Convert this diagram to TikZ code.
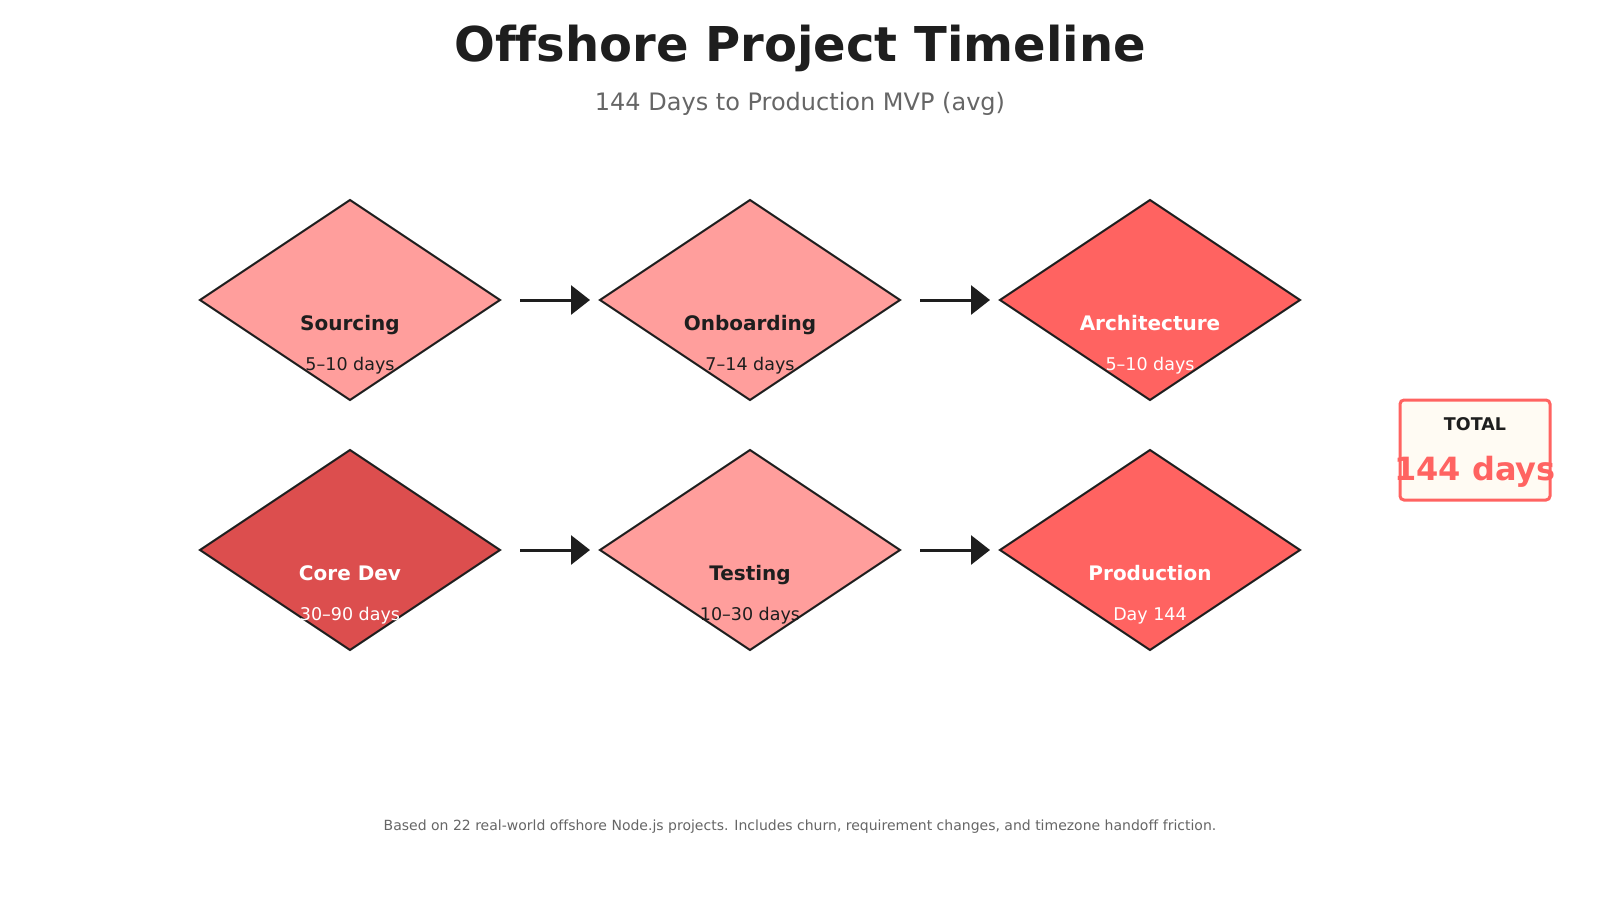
\documentclass[tikz,border=0pt]{standalone}
\usepackage{fontspec}
\setmainfont{DejaVu Sans}[Ligatures={NoCommon}]
\usetikzlibrary{shapes.geometric,arrows.meta}
\definecolor{ink}{HTML}{1E1E1E}
\definecolor{muted}{HTML}{666666}
\definecolor{pinkpale}{HTML}{FF9E9C}
\definecolor{coral}{HTML}{FF6361}
\definecolor{brick}{HTML}{DC4E4E}
\definecolor{cream}{HTML}{FFFBF3}
\tikzset{%
  stage/.style  = {shape=diamond, draw=ink, line width=1pt,%
                   inner sep=0pt, outer sep=0pt,%
                   minimum width=150pt, minimum height=100pt},%
  pale/.style   = {stage, fill=pinkpale},%
  hot/.style    = {stage, fill=coral},%
  deep/.style   = {stage, fill=brick},%
  phase/.style  = {font=\bfseries\fontsize{10}{12}\selectfont, text=ink,%
                   text height=.76em, text depth=.24em},%
  span/.style   = {font=\fontsize{8.75}{10}\selectfont, text=ink,%
                   text height=.76em, text depth=.24em},%
  flow/.style   = {draw=ink, line width=1.5pt, -{Triangle[length=9.5pt,width=14.5pt]}}%
}

\begin{document}
\begin{tikzpicture}
  [x=0.5pt,y=-0.5pt,totalbox/.style={rectangle, rounded corners=2pt, draw=coral, line width=1.5pt, fill=cream, minimum width=75pt, minimum height=50pt}]
  \useasboundingbox[fill=white] (0,0) rectangle (1600,900);
  % heading
  \node (title) at (800,48) {\bfseries\fontsize{24}{28}\selectfont\color{ink}Offshore Project Timeline};
  \node (subtitle) at (800,104) {\fontsize{12}{14}\selectfont\color{muted}144 Days to Production MVP (avg)};
  % first row
  \node [pale] (src) at (350,300) {};
  \node [phase] at (350,325) {Sourcing};
  \node [span] at (350,365) {5–10 days};
  \node [pale] (onb) at (750,300) {};
  \node [phase] at (750,325) {Onboarding};
  \node [span] at (750,365) {7–14 days};
  \node [hot] (arch) at (1150,300) {};
  \node [phase, text=white] at (1150,325) {Architecture};
  \node [span, text=white] at (1150,365) {5–10 days};
  % second row
  \node [deep] (dev) at (350,550) {};
  \node [phase, text=white] at (350,575) {Core Dev};
  \node [span, text=white] at (350,615) {30–90 days};
  \node [pale] (test) at (750,550) {};
  \node [phase] at (750,575) {Testing};
  \node [span] at (750,615) {10–30 days};
  \node [hot] (prod) at (1150,550) {};
  \node [phase, text=white] at (1150,575) {Production};
  \node [span, text=white] at (1150,615) {Day 144};
  % arrows
  \foreach \a/\b in {src/onb, onb/arch, dev/test, test/prod}
    \draw [flow] ([xshift=10pt]\a.east) -- ([xshift=-5pt]\b.west);
  % total
  \node [totalbox] (total) at (1475,450) {};
  \node [phase, font=\bfseries\fontsize{8.75}{10}\selectfont] at (1475,425) {TOTAL};
  \node [phase, text=coral, font=\bfseries\fontsize{16}{18}\selectfont] at (1475,475) {144 days};
  % footer
  \node (note) at (800,827) {\fontsize{7}{8}\selectfont\color{muted}Based on 22 real-world offshore Node.js projects. Includes churn, requirement changes, and timezone handoff friction.};
\end{tikzpicture}
\end{document}
